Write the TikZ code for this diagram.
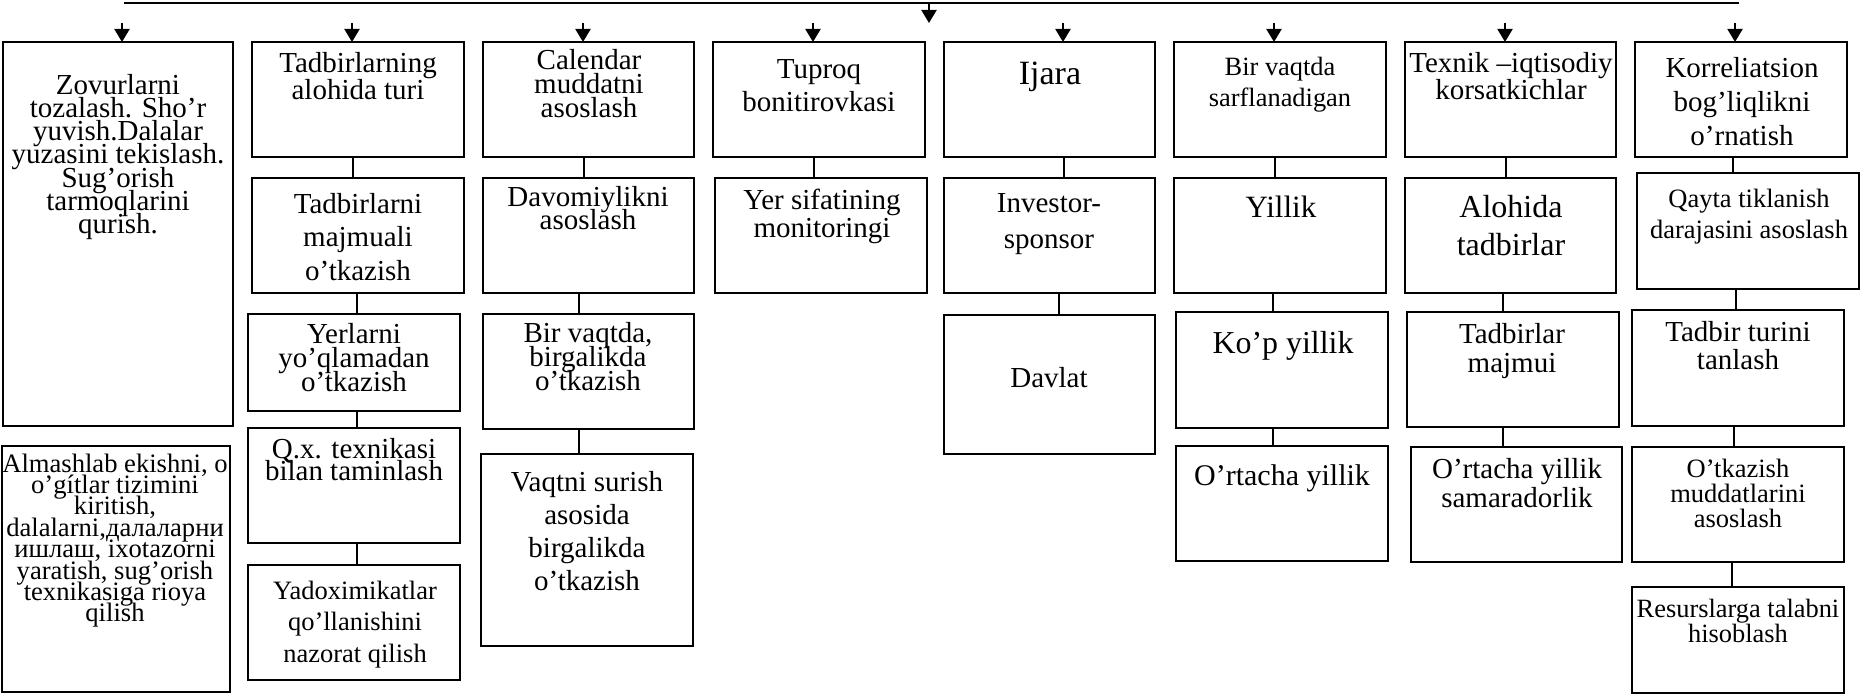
\documentclass[tikz,border=0pt]{standalone}
\usepackage{fontspec}
\setmainfont{Liberation Serif}
\usetikzlibrary{arrows.meta,calc}
\newcommand\bx[5]{\node[box, anchor=north west, minimum width={#4-#2}, minimum height={#5-#3}] (#1) at (#2,#3) {};}
% name, x, first baseline, size, skip, number of lines, text
\newcommand\tx[7]{\node[txt, font={\fontsize{#4}{#5}\selectfont\lineskiplimit=-100pt\lineskip=0pt}] (#1) at (#2,{#3+(#6-1)*#5}) {#7};}
\newcommand\link[3]{\path (#1.south) ++(#3,0) coordinate (tmp); \draw[conn] (tmp) -- (tmp |- #2.north);}
\newcommand\stub[3]{\coordinate (#1) at (#2,23); \draw[arr] (#1) -- (#1 |- #3.north);}
\begin{document}
\begin{tikzpicture}[x=1pt,y=-1pt,
  box/.style={draw, line width=2.2pt, rectangle, inner sep=0pt, outer sep=0pt},
  conn/.style={line width=2pt},
  arr/.style={line width=2pt, -{Triangle[length=13pt,width=15pt]}},
  txt/.style={anchor=base, align=center, inner sep=0pt}]
\useasboundingbox (0,0) rectangle (1861,695);
% boxes
\bx{b1}{3}{42}{233}{426}
\bx{b1b}{2}{446}{230}{692}
\bx{b2a}{252}{42}{464}{157}
\bx{b2b}{252}{178}{464}{293}
\bx{b2c}{248}{314}{460}{411}
\bx{b2d}{248}{428}{460}{543}
\bx{b2e}{248}{565}{460}{680}
\bx{b3a}{483}{42}{694}{157}
\bx{b3b}{483}{178}{694}{293}
\bx{b3c}{483}{314}{694}{429}
\bx{b3d}{481}{454}{693}{646}
\bx{b4a}{713}{42}{925}{157}
\bx{b4b}{715}{178}{927}{293}
\bx{b5a}{944}{42}{1155}{157}
\bx{b5b}{944}{178}{1155}{293}
\bx{b5c}{944}{315}{1155}{454}
\bx{b6a}{1174}{42}{1386}{157}
\bx{b6b}{1174}{178}{1386}{293}
\bx{b6c}{1176}{312}{1388}{428}
\bx{b6d}{1176}{446}{1388}{561}
\bx{b7a}{1405}{42}{1616}{157}
\bx{b7b}{1405}{178}{1616}{293}
\bx{b7c}{1407}{312}{1619}{427}
\bx{b7d}{1411}{447}{1622}{562}
\bx{b8a}{1635}{42}{1847}{157}
\bx{b8b}{1637}{173}{1859}{289}
\bx{b8c}{1632}{310}{1844}{426}
\bx{b8d}{1632}{447}{1844}{562}
\bx{b8e}{1632}{587}{1844}{693}
% texts
\tx{t1}{118}{94}{29}{23.3}{7}{Zovurlarni\\tozalash. Sho’r\\yuvish.Dalalar\\yuzasini tekislash.\\Sug’orish\\tarmoqlarini\\qurish.}
\tx{t1b}{115}{472}{26.6}{21.4}{8}{Almashlab ekishni, o\\o’gítlar  tizimini\\kiritish,\\dalalarni,далаларни\\ишлаш, ixotazorni\\yaratish, sug’orish\\texnikasiga rioya\\qilish}
\tx{t2a}{358}{73}{29}{27}{2}{Tadbirlarning\\alohida turi}
\tx{t2b}{358}{213}{29}{33.5}{3}{Tadbirlarni\\majmuali\\o’tkazish}
\tx{t2c}{354}{343}{29}{24}{3}{Yerlarni\\yo’qlamadan\\o’tkazish}
\tx{t2d}{354}{458}{29}{22}{2}{Q.x. texnikasi\\bilan taminlash}
\tx{t2e}{355}{599}{26.5}{31.5}{3}{Yadoximikatlar\\qo’llanishini\\nazorat qilish}
\tx{t3a}{589}{70}{29}{24}{3}{Calendar\\muddatni\\asoslash}
\tx{t3b}{588}{206}{29}{24}{2}{Davomiylikni\\asoslash}
\tx{t3c}{588}{342}{29}{24}{3}{Bir vaqtda,\\birgalikda\\o’tkazish}
\tx{t3d}{587}{491}{29}{33.3}{4}{Vaqtni surish\\asosida\\birgalikda\\o’tkazish}
\tx{t4a}{819}{79}{29}{33}{2}{Tuproq\\bonitirovkasi}
\tx{t4b}{822}{209}{29}{28}{2}{Yer sifatining\\monitoringi}
\tx{t5a}{1050}{85}{34}{40}{1}{Ijara}
\tx{t5b}{1049}{213}{29}{36}{2}{Investor-\\sponsor}
\tx{t5c}{1049}{387}{29}{34}{1}{Davlat}
\tx{t6a}{1280}{76}{26.4}{31}{2}{Bir vaqtda\\sarflanadigan}
\tx{t6b}{1281}{218}{31}{36}{1}{Yillik}
\tx{t6c}{1283}{353}{31.9}{36}{1}{Ko’p yillik}
\tx{t6d}{1282}{485}{30}{35}{1}{O’rtacha yillik}
\tx{t7a}{1511}{73}{29}{27}{2}{Texnik –iqtisodiy\\korsatkichlar}
\tx{t7b}{1511}{217}{32}{38}{2}{Alohida\\tadbirlar}
\tx{t7c}{1512}{343}{29}{29}{2}{Tadbirlar\\majmui}
\tx{t7d}{1517}{478}{29}{29}{2}{O’rtacha yillik\\samaradorlik}
\tx{t8a}{1742}{78}{29}{34}{3}{Korreliatsion\\bog’liqlikni\\o’rnatish}
\tx{t8b}{1749}{208}{26.5}{31}{2}{Qayta tiklanish\\darajasini asoslash}
\tx{t8c}{1738}{341}{29}{28}{2}{Tadbir turini\\tanlash}
\tx{t8d}{1738}{477}{26.5}{25}{3}{O’tkazish\\muddatlarini\\asoslash}
\tx{t8e}{1738}{617}{26.4}{25}{2}{Resurslarga talabni\\hisoblash}
% connectors
\link{b2a}{b2b}{-5}
\link{b2b}{b2c}{-1}
\link{b2c}{b2d}{3}
\link{b2d}{b2e}{3}
\link{b3a}{b3b}{-4.5}
\link{b3b}{b3c}{-9.5}
\link{b3c}{b3d}{-9.5}
\link{b4a}{b4b}{-5}
\link{b5a}{b5b}{14.5}
\link{b5b}{b5c}{9.5}
\link{b6a}{b6b}{-5}
\link{b6b}{b6c}{-7}
\link{b6c}{b6d}{-9}
\link{b7a}{b7b}{-4.5}
\link{b7b}{b7c}{-7.5}
\link{b7c}{b7d}{-10}
\link{b8a}{b8b}{-8}
\link{b8b}{b8c}{-12}
\link{b8c}{b8d}{-4}
\link{b8d}{b8e}{-6}
% top line and arrows
\coordinate (L) at (124,3);
\coordinate (R) at (1739,3);
\draw[conn] (L) -- (R);
\coordinate (m) at (929,3);
\coordinate (me) at (929,23);
\draw[arr] (m) -- (me);
\stub{s1}{122}{b1}
\stub{s2}{352}{b2a}
\stub{s3}{583}{b3a}
\stub{s4}{813}{b4a}
\stub{s5}{1063}{b5a}
\stub{s6}{1274}{b6a}
\stub{s7}{1505}{b7a}
\stub{s8}{1735}{b8a}
\end{tikzpicture}
\end{document}
